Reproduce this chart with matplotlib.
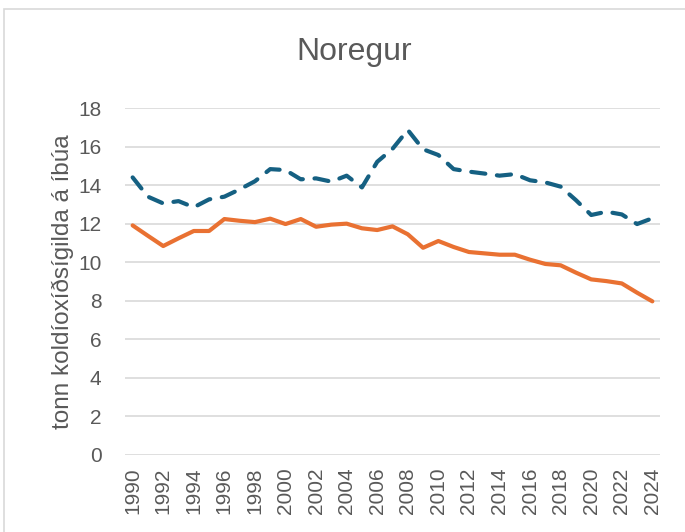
import matplotlib
matplotlib.use("Agg")
import matplotlib.pyplot as plt
from matplotlib.patches import Rectangle

years = list(range(1990, 2025))
blue_vals = [14.4, 13.4, 13.05, 13.17, 12.85, 13.26, 13.4, 13.78, 14.2, 14.83,
             14.78, 14.3, 14.35, 14.18, 14.49, 13.88, 15.21, 15.88, 16.86, 15.86,
             15.56, 14.83, 14.7, 14.6, 14.49, 14.57, 14.25, 14.14, 13.92, 13.22,
             12.45, 12.62, 12.48, 11.98, 12.28]
orange_vals = [11.91, 11.37, 10.84, 11.24, 11.62, 11.62, 12.24, 12.15, 12.08, 12.26,
               11.98, 12.24, 11.84, 11.95, 12.0, 11.76, 11.67, 11.86, 11.45, 10.75,
               11.1, 10.79, 10.53, 10.46, 10.39, 10.39, 10.13, 9.91, 9.84, 9.46,
               9.11, 9.02, 8.9, 8.42, 7.97]
yticks = list(range(0, 20, 2))
title = "Noregur"
ylabel = "tonn koldíoxíðsígilda á íbúa"

text_color = "#595959"
plt.rcParams["font.family"] = ["Liberation Sans", "DejaVu Sans"]

fig = plt.figure(figsize=(6.85, 5.32), dpi=100)
fig.patches.append(Rectangle((4 / 685, -0.1), 1.2, 1 - 9 / 532 + 0.1,
                             transform=fig.transFigure, facecolor="none",
                             edgecolor="#d9d9d9", linewidth=1.2))
ax = fig.add_axes([125 / 685, 1 - 455 / 532, 535 / 685, (455 - 108) / 532])

ax.plot(years, blue_vals, color="#156082", linewidth=3.0, linestyle=(0, (3.4, 2.8)),
        dash_capstyle="round", solid_joinstyle="round", zorder=3)
ax.plot(years, orange_vals, color="#e97132", linewidth=3.0,
        solid_capstyle="round", solid_joinstyle="round", zorder=3)

ax.set_xlim(1989.5, 2024.5)
ax.set_ylim(0, 18)
ax.set_yticks(yticks)
ax.set_xticks(years[::2])
ax.set_xticklabels([str(y) for y in years[::2]], rotation=90)
ax.grid(axis="y", color="#d9d9d9", linewidth=1.2)
ax.set_axisbelow(True)
for s in ax.spines.values():
    s.set_visible(False)
ax.tick_params(length=0, labelsize=15, colors=text_color)
ax.tick_params(axis="x", pad=9)
ax.tick_params(axis="y", pad=17)
ax.set_ylabel(ylabel, fontsize=17.5, color=text_color, labelpad=3)

fig.text(0.5 + 12 / 685, 1 - 52 / 532, title, ha="center", va="center",
         fontsize=23, color=text_color)

plt.savefig("out.png", dpi=100)
plt.close()
